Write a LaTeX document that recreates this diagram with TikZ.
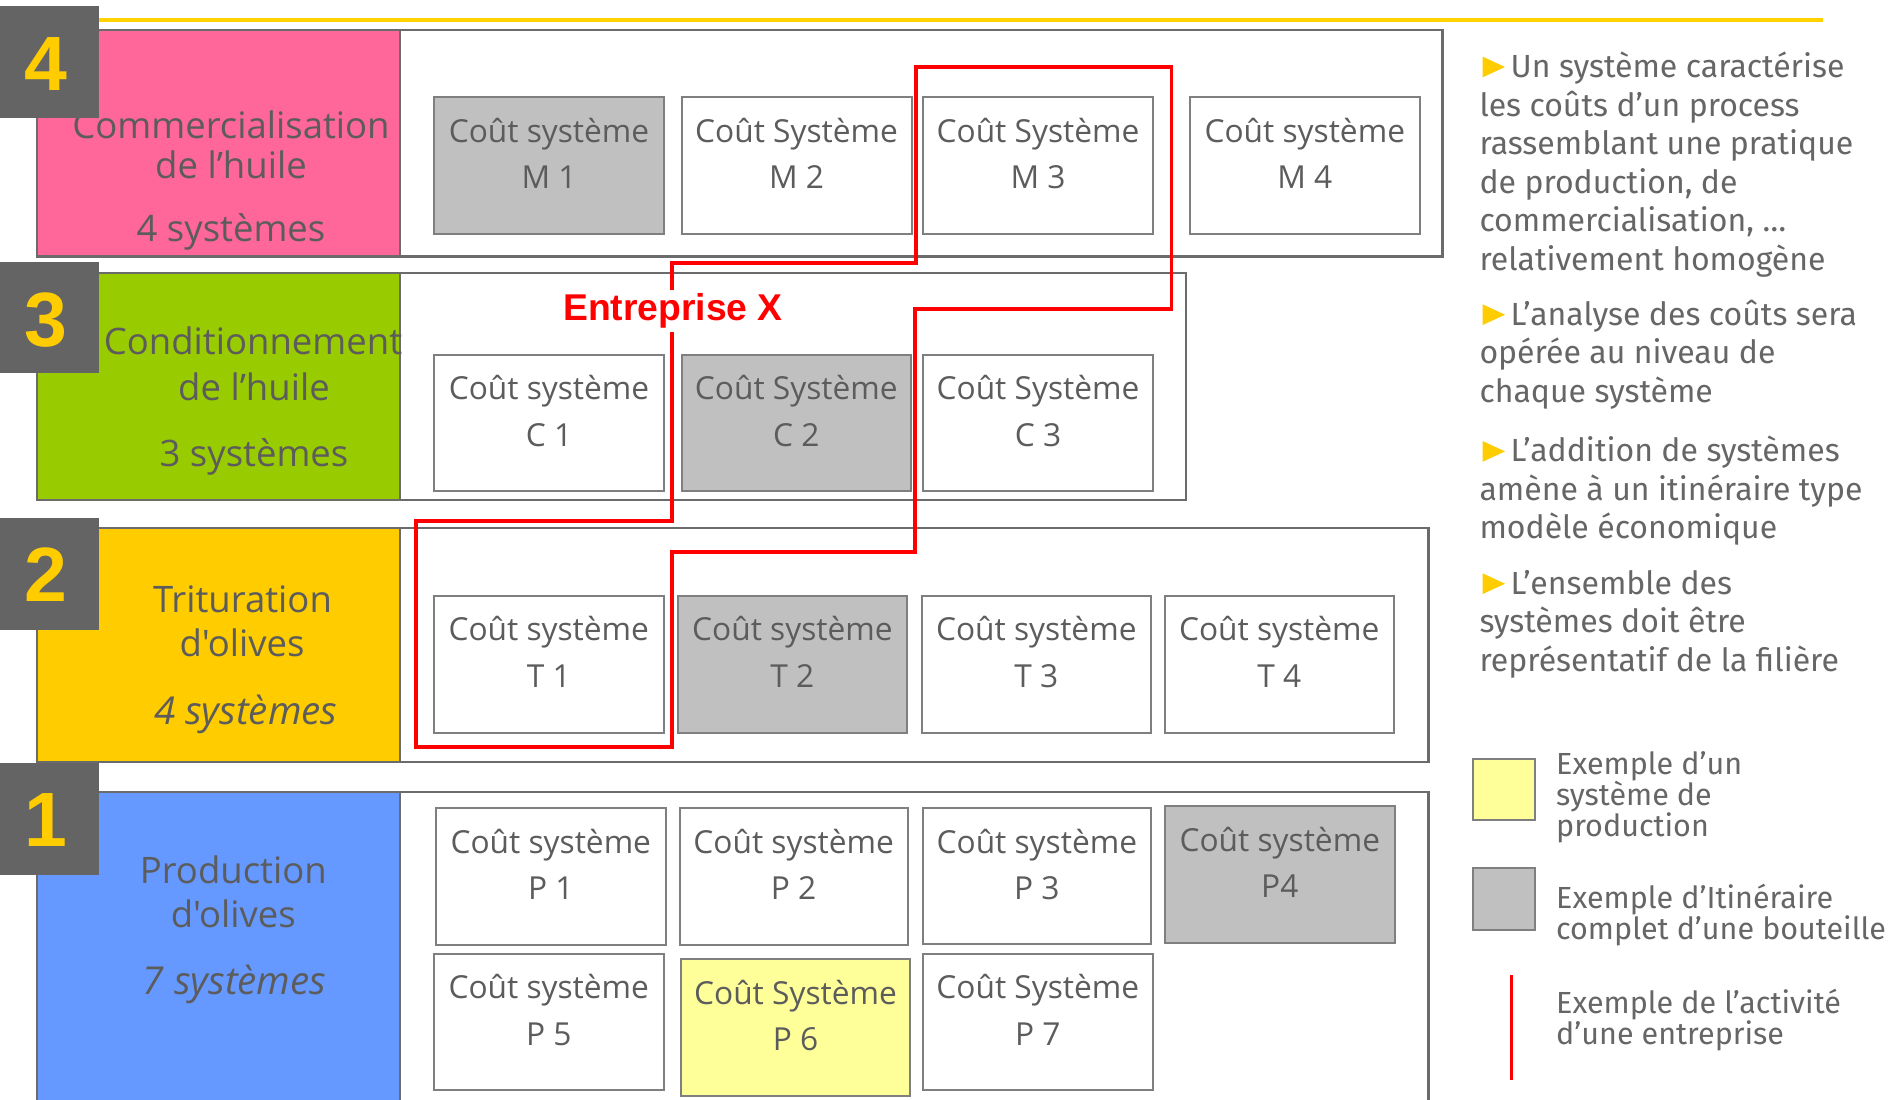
\documentclass[tikz,border=0pt]{standalone}
\usepackage{fontspec}
\newfontfamily\lblfont{Open Sans}
\newfontfamily\rfont{Fira Sans}
\newfontfamily\afont{Liberation Sans}
\definecolor{numgray}{HTML}{646464}
\definecolor{linegray}{HTML}{6B6B6B}
\definecolor{boxline}{HTML}{7F7F7F}
\definecolor{txtgray}{HTML}{5C5C5C}
\definecolor{rtxtgray}{HTML}{666666}
\definecolor{pinkc}{HTML}{FF6699}
\definecolor{greenc}{HTML}{99CC00}
\definecolor{yellowc}{HTML}{FFCC00}
\definecolor{bluec}{HTML}{6699FF}
\definecolor{boxgray}{HTML}{C0C0C0}
\definecolor{boxyellow}{HTML}{FFFF99}
\definecolor{toplinec}{HTML}{FFD200}
\definecolor{digitc}{HTML}{FFCC00}
\definecolor{redc}{HTML}{FF0000}
\tikzset{
  lvlrect/.style={draw=linegray, line width=2.5pt, inner sep=0, outer sep=0},
  sysrect/.style={draw=boxline, line width=2pt, inner sep=0, outer sep=0},
  numbox/.style={fill=numgray, inner sep=0, outer sep=0},
  digit/.style={font=\afont\bfseries\fontsize{77}{80}\selectfont, text=digitc, inner sep=0, anchor=base},
  lbltxt/.style={font=\lblfont\fontsize{36.5}{40}\selectfont, text=txtgray, inner sep=0, anchor=base},
  lblit/.style={font=\lblfont\itshape\fontsize{38.5}{40}\selectfont, text=txtgray, inner sep=0, anchor=base},
  boxtxt/.style={font=\lblfont\fontsize{31.7}{38}\selectfont, text=txtgray, inner sep=0, anchor=base},
  rtxt/.style={font=\rfont\fontsize{32}{38}\selectfont, text=rtxtgray, inner sep=0, anchor=base west},
  legtxt/.style={font=\rfont\fontsize{30.5}{31}\selectfont, text=rtxtgray, inner sep=0, anchor=base west},
  redpath/.style={draw=redc, line width=3.5pt, line join=miter},
  bullet/.style={fill=yellowc},
}
\newcommand\rbox[6]{%
  \node[#6, minimum width={(#4-#2)*1pt}, minimum height={(#5-#3)*1pt}] (#1) at ({(#2+#4)/2},{(#3+#5)/2}) {};}
\newcommand\sysbox[8]{%
  \node[sysrect, fill=#6, minimum width={(#4-#2)*1pt}, minimum height={(#5-#3)*1pt}] (#1) at ({(#2+#4)/2},{(#3+#5)/2}) {};
  \node[boxtxt] (#1a) at ({(#2+#4)/2},{#3+45}) {#7};
  \node[boxtxt] (#1b) at ({(#2+#4)/2},{#3+91.5}) {#8};}
\newcommand\bul[2]{\fill[bullet] (1482.7,#1-20.6) -- (1505,#1-10.3) -- (1482.7,#1) -- cycle;}
\begin{document}
\begin{tikzpicture}[x=1pt,y=-1pt]
\useasboundingbox (0,0) rectangle (1893,1100);
\clip (0,0) rectangle (1893,1100);
\fill[white] (0,0) rectangle (1893,1100);
% top yellow line
\draw[toplinec, line width=3.5pt] (99,20) -- (1823,20);
% level frames
\rbox{L4}{37}{30}{1442.6}{256.5}{lvlrect}
\rbox{L3}{37}{273}{1186}{500}{lvlrect}
\rbox{L2}{37}{528}{1428.7}{762}{lvlrect}
\rbox{L1}{37}{792}{1428.7}{1120}{lvlrect}
% colored blocks
\rbox{L4c}{37}{30}{400}{256.5}{lvlrect, fill=pinkc}
\rbox{L3c}{37}{273}{400}{500}{lvlrect, fill=greenc}
\rbox{L2c}{37}{528}{400}{762}{lvlrect, fill=yellowc}
\rbox{L1c}{37}{792}{400}{1120}{lvlrect, fill=bluec}
% level labels
\node[lbltxt] (L4t1) at (231,138.5) {Commercialisation};
\node[lbltxt] (L4t2) at (231,178.5) {de l’huile};
\node[lbltxt] (L4t3) at (231,241.7) {4 systèmes};
\node[lbltxt] (L3t1) at (253,354.3) {Conditionnement};
\node[lbltxt] (L3t2) at (254,400) {de l’huile};
\node[lbltxt] (L3t3) at (254,466.8) {3 systèmes};
\node[lbltxt] (L2t1) at (242.5,612.3) {Trituration};
\node[lbltxt] (L2t2) at (242,656.7) {d'olives};
\node[lblit] (L2t3) at (245.8,724) {4 systèmes};
\node[lbltxt] (L1t1) at (233.3,883.5) {Production};
\node[lbltxt] (L1t2) at (233.3,927.3) {d'olives};
\node[lblit] (L1t3) at (234.6,994) {7 systèmes};
% number boxes
\rbox{N4}{0}{6}{99}{118}{numbox}
\rbox{N3}{0}{262}{99}{373}{numbox}
\rbox{N2}{0}{517.5}{99}{630}{numbox}
\rbox{N1}{0}{762.5}{99}{875}{numbox}
\node[digit] (D4) at (46,90) {4};
\node[digit] (D3) at (46,346) {3};
\node[digit] (D2) at (46,601.5) {2};
\node[digit] (D1) at (46,846.5) {1};
% system boxes
\sysbox{M1}{434}{97}{664}{234}{boxgray}{Coût système}{M 1}
\sysbox{M2}{681.6}{97}{911.5}{234}{white}{Coût Système}{M 2}
\sysbox{M3}{923}{97}{1153}{234}{white}{Coût Système}{M 3}
\sysbox{M4}{1190}{97}{1419.6}{234}{white}{Coût système}{M 4}
\sysbox{C1}{434}{354.5}{664}{491}{white}{Coût système}{C 1}
\sysbox{C2}{681.6}{354.5}{911}{491}{boxgray}{Coût Système}{C 2}
\sysbox{C3}{923}{354.5}{1153}{491}{white}{Coût Système}{C 3}
\sysbox{T1}{434}{595.6}{663.5}{732.5}{white}{Coût système}{T 1}
\sysbox{T2}{678}{595.6}{906.8}{732.5}{boxgray}{Coût système}{T 2}
\sysbox{T3}{922}{595.6}{1150.6}{732.5}{white}{Coût système}{T 3}
\sysbox{T4}{1164.5}{595.6}{1394}{732.5}{white}{Coût système}{T 4}
\sysbox{P1}{436}{808}{665.6}{945}{white}{Coût système}{P 1}
\sysbox{P2}{679.5}{808}{907.8}{945}{white}{Coût système}{P 2}
\sysbox{P3}{922.7}{808}{1151}{944}{white}{Coût système}{P 3}
\sysbox{P4}{1165}{806}{1394.6}{943}{boxgray}{Coût système}{P4}
\sysbox{P5}{434}{953.6}{663.5}{1090}{white}{Coût système}{P 5}
\sysbox{P6}{681}{959}{910}{1096}{boxyellow}{Coût Système}{P 6}
\sysbox{P7}{923}{953.6}{1152.7}{1090}{white}{Coût Système}{P 7}
% red enterprise outline
\draw[redpath] (672,263) -- (916,263) -- (916,67) -- (1171.5,67) -- (1171.5,309) -- (915,309) -- (915,552) -- (672,552) -- (672,747) -- (416,747) -- (416,521) -- (672,521) -- cycle;
\node[fill=white, inner sep=4pt, text=redc, font=\afont\bfseries\fontsize{37.3}{40}\selectfont, anchor=base] (entx) at (673,320.7) {Entreprise X};
% right text
\bul{77.3}{}
\node[rtxt] (r11) at (1510.5,77.3) {Un système caractérise};
\node[rtxt] (r12) at (1479.3,116) {les coûts d’un process};
\node[rtxt] (r13) at (1479.3,154.6) {rassemblant une pratique};
\node[rtxt] (r14) at (1479.3,193.2) {de production, de};
\node[rtxt] (r15) at (1479.3,231.8) {commercialisation, …};
\node[rtxt] (r16) at (1479.3,270.4) {relativement homogène};
\bul{325}{}
\node[rtxt] (r21) at (1510.5,325) {L’analyse des coûts sera};
\node[rtxt] (r22) at (1479.3,363.6) {opérée au niveau de};
\node[rtxt] (r23) at (1479.3,402.2) {chaque système};
\bul{461.7}{}
\node[rtxt] (r31) at (1510.5,461.7) {L’addition de systèmes};
\node[rtxt] (r32) at (1479.3,500.3) {amène à un itinéraire type};
\node[rtxt] (r33) at (1479.3,538.9) {modèle économique};
\bul{594}{}
\node[rtxt] (r41) at (1510.5,594) {L’ensemble des};
\node[rtxt] (r42) at (1479.3,632.6) {systèmes doit être};
\node[rtxt] (r43) at (1479.3,671.2) {représentatif de la filière};
% legend
\rbox{LGy}{1473.3}{759}{1534.7}{820}{sysrect, fill=boxyellow}
\rbox{LGg}{1473.3}{868}{1534.7}{929.5}{sysrect, fill=boxgray}
\coordinate (LGr1) at (1511.7,975);
\coordinate (LGr2) at (1511.7,1080);
\draw[redc, line width=3.5pt] (LGr1) -- (LGr2);
\node[legtxt] (g11) at (1556,774.3) {Exemple d’un};
\node[legtxt] (g12) at (1556,805.3) {système de};
\node[legtxt] (g13) at (1556,836.3) {production};
\node[legtxt] (g21) at (1556,908) {Exemple d’Itinéraire};
\node[legtxt] (g22) at (1556,939) {complet d’une bouteille};
\node[legtxt] (g31) at (1556,1013) {Exemple de l’activité};
\node[legtxt] (g32) at (1556,1044) {d’une entreprise};
\end{tikzpicture}
\end{document}
